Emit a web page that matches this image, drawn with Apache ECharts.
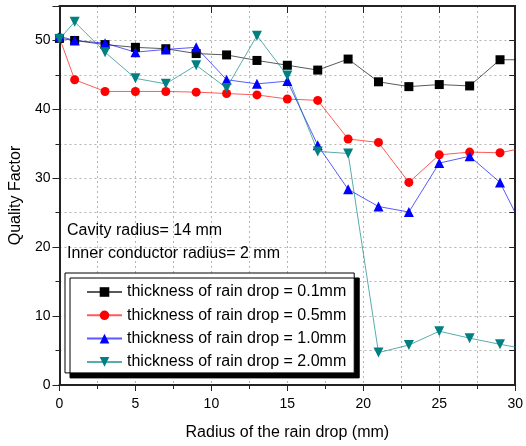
<!DOCTYPE html>
<html>
<head>
<meta charset="utf-8">
<script src="https://cdn.jsdelivr.net/npm/echarts@6/dist/echarts.min.js"></script>
<style>
  html, body { margin: 0; padding: 0; background: #fff; }
  #chart { width: 526px; height: 446px; }
</style>
</head>
<body>
<div id="chart"></div>
<script>
// radius of the rain drop (mm); last point lies just past the right edge
const radius = [0, 1, 3, 5, 7, 9, 11, 13, 15, 17, 19, 21, 23, 25, 27, 29, 31];
const q01 = [50.3, 50.0, 49.4, 49.0, 48.8, 48.1, 47.9, 47.1, 46.4, 45.7, 47.3, 44.0, 43.3, 43.6, 43.4, 47.2, 47.2];
const q05 = [50.4, 44.3, 42.6, 42.6, 42.6, 42.5, 42.3, 42.1, 41.5, 41.3, 35.7, 35.2, 29.4, 33.4, 33.8, 33.7, 34.6];
const q10 = [50.6, 50.0, 49.6, 48.3, 48.7, 49.0, 44.3, 43.7, 44.1, 34.8, 28.4, 25.9, 25.1, 32.2, 33.2, 29.4, 20.6];
const q20 = [50.2, 52.7, 48.3, 44.5, 43.7, 46.4, 43.1, 50.7, 44.9, 33.9, 33.6, 4.7, 5.8, 7.8, 6.8, 5.9, 5.1];
const seriesNames = [
  "thickness of rain drop = 0.1mm",
  "thickness of rain drop = 0.5mm",
  "thickness of rain drop = 1.0mm",
  "thickness of rain drop = 2.0mm"
];
const notes = ["Cavity radius= 14 mm", "Inner conductor radius= 2 mm"];

const font = "'Liberation Sans', Arial, sans-serif";
const colors = { black: "#000000", red: "#ff0000", blue: "#0000ff", teal: "#008080" };
const gridLine = { show: true, lineStyle: { color: "#b4b4b4", type: [2, 3], width: 1 } };
const frame = { show: true, onZero: false, lineStyle: { color: "#222", width: 2 } };

const pairs = ys => radius.map((x, i) => [x, ys[i]]);
const lineSeries = (name, ys, color, symbol, rotate) => ({
  name,
  type: "line",
  data: pairs(ys),
  clip: true,
  symbol,
  symbolSize: symbol === "triangle" ? 10 : 9,
  symbolRotate: rotate || 0,
  itemStyle: { color },
  lineStyle: { color, width: 1, opacity: 0.65 }
});

const chart = echarts.init(document.getElementById("chart"), null, { renderer: "canvas" });
chart.setOption({
  animation: false,
  textStyle: { fontFamily: font },
  grid: { left: 57, right: 8, top: 6, bottom: 60 },
  xAxis: [
    {
      type: "value", min: 0, max: 30, interval: 5,
      name: "Radius of the rain drop (mm)", nameLocation: "middle", nameGap: 40,
      nameTextStyle: { fontSize: 16, color: "#000", fontFamily: font },
      axisLine: frame,
      axisTick: { show: true, inside: false, length: 6, lineStyle: { color: "#222" } },
      minorTick: { show: true, splitNumber: 2, length: 4, lineStyle: { color: "#222" } },
      axisLabel: { fontSize: 14, color: "#000", margin: 12, fontFamily: font },
      splitLine: gridLine,
      minorSplitLine: gridLine
    },
    {
      type: "value", position: "top", min: 0, max: 30, interval: 5,
      axisLine: frame,
      axisTick: { show: true, inside: true, length: 7, lineStyle: { color: "#222" } },
      axisLabel: { show: false },
      splitLine: { show: false }
    }
  ],
  yAxis: [
    {
      type: "value", min: 0, max: 55, interval: 10,
      name: "Quality Factor", nameLocation: "middle", nameGap: 33,
      nameTextStyle: { fontSize: 16, color: "#000", fontFamily: font },
      axisLine: frame,
      axisTick: { show: true, inside: false, length: 7, lineStyle: { color: "#222" } },
      minorTick: { show: true, splitNumber: 2, length: 4, lineStyle: { color: "#222" } },
      axisLabel: { fontSize: 14, color: "#000", margin: 9, fontFamily: font, showMaxLabel: false },
      splitLine: gridLine,
      minorSplitLine: gridLine
    },
    {
      type: "value", position: "right", min: 0, max: 55, interval: 5,
      axisLine: frame,
      axisTick: { show: true, inside: true, length: 6, lineStyle: { color: "#222" } },
      axisLabel: { show: false },
      splitLine: { show: false }
    }
  ],
  legend: {
    orient: "vertical",
    left: 65, top: 273,
    padding: [11, 8, 3, 21],
    itemWidth: 35, itemHeight: 12, itemGap: 7.3,
    backgroundColor: "#fff",
    borderColor: "#000", borderWidth: 1, borderRadius: 0,
    shadowColor: "#000", shadowBlur: 0, shadowOffsetX: 5, shadowOffsetY: 5,
    textStyle: { fontSize: 16, color: "#000", fontFamily: font },
    data: seriesNames
  },
  graphic: notes.map((t, i) => ({
    type: "text", left: 67, top: 223 + i * 22.5, z: 10,
    style: { text: t, fontSize: 16, fill: "#000", fontFamily: font }
  })),
  series: [
    lineSeries(seriesNames[0], q01, colors.black, "rect"),
    lineSeries(seriesNames[1], q05, colors.red, "circle"),
    lineSeries(seriesNames[2], q10, colors.blue, "triangle"),
    lineSeries(seriesNames[3], q20, colors.teal, "triangle", 180)
  ]
});
</script>
</body>
</html>
